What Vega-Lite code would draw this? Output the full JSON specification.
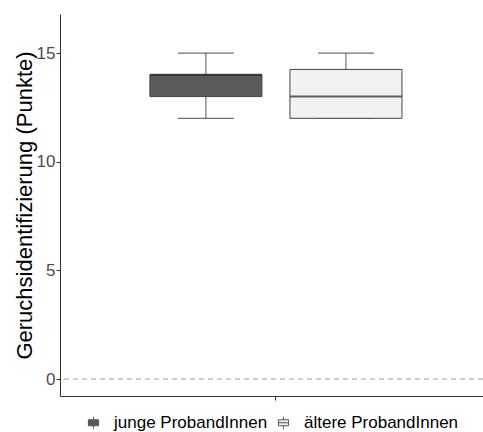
{
  "$schema": "https://vega.github.io/schema/vega-lite/v6.json",
  "autosize": "none",
  "width": 423,
  "height": 382,
  "padding": {"left": 60, "top": 14, "right": 0, "bottom": 36},
  "background": "white",
  "config": {
    "view": {"stroke": null},
    "font": "Liberation Sans",
    "axis": {"grid": false, "domainColor": "#333333", "domainWidth": 1, "tickColor": "#333333", "tickWidth": 1, "tickSize": 4}
  },
  "data": {
    "values": [
      {"cat": "", "group": "junge ProbandInnen", "lower": 12, "q1": 13, "median": 14, "q3": 14, "upper": 15},
      {"cat": "", "group": "ältere ProbandInnen", "lower": 12, "q1": 12, "median": 13, "q3": 14.25, "upper": 15}
    ]
  },
  "encoding": {
    "x": {
      "field": "cat", "type": "nominal",
      "scale": {"paddingInner": 0, "paddingOuter": 0.339, "align": 0.526},
      "axis": {"title": null, "labels": false, "ticks": true}
    },
    "xOffset": {
      "field": "group", "type": "nominal",
      "sort": ["junge ProbandInnen", "ältere ProbandInnen"],
      "scale": {"paddingInner": 0.2, "paddingOuter": 0}
    }
  },
  "layer": [
    {
      "mark": {"type": "rule", "color": "#bdbdbd", "strokeWidth": 1, "strokeDash": [5, 4]},
      "encoding": {"y": {"datum": 0, "type": "quantitative"}, "x": null, "xOffset": null}
    },
    {
      "mark": {"type": "rule", "color": "#555555", "strokeWidth": 1},
      "encoding": {
        "y": {"field": "lower", "type": "quantitative",
          "scale": {"domain": [-0.78, 16.8], "nice": false, "zero": false},
          "axis": {
            "values": [0, 5, 10, 15],
            "title": "Geruchsidentifizierung (Punkte)",
            "titleFontSize": 22, "titleFontWeight": "normal", "titleColor": "#000000", "titlePadding": 0,
            "labelFontSize": 17, "labelColor": "#4d4d4d", "labelPadding": 1
          }
        },
        "y2": {"field": "q1"}
      }
    },
    {
      "mark": {"type": "rule", "color": "#555555", "strokeWidth": 1},
      "encoding": {"y": {"field": "q3", "type": "quantitative"}, "y2": {"field": "upper"}}
    },
    {
      "mark": {"type": "tick", "orient": "horizontal", "size": 56, "thickness": 1.2, "color": "#333333"},
      "encoding": {"y": {"field": "lower", "type": "quantitative"}}
    },
    {
      "mark": {"type": "tick", "orient": "horizontal", "size": 56, "thickness": 1.2, "color": "#333333"},
      "encoding": {"y": {"field": "upper", "type": "quantitative"}}
    },
    {
      "mark": {"type": "bar", "stroke": "#444444", "strokeWidth": 1},
      "encoding": {
        "y": {"field": "q1", "type": "quantitative"},
        "y2": {"field": "q3"},
        "fill": {
          "field": "group", "type": "nominal",
          "sort": ["junge ProbandInnen", "ältere ProbandInnen"],
          "scale": {"domain": ["junge ProbandInnen", "ältere ProbandInnen"], "range": ["#5a5a5a", "#f2f2f2"]},
          "legend": {
            "title": null,
            "orient": "none",
            "direction": "horizontal",
            "legendX": 25,
            "legendY": 400,
            "symbolType": "M-0.85,-0.5H0.85V0.5H-0.85Z M-0.85,0H0.85 M0,-0.5V-1 M0,0.5V1",
            "symbolSize": 144,
            "symbolStrokeColor": "#555555",
            "symbolStrokeWidth": 1,
            "symbolOpacity": 1,
            "labelFontSize": 17,
            "labelColor": "#000000",
            "labelOffset": 12,
            "columnPadding": 7
          }
        }
      }
    },
    {
      "mark": {"type": "tick", "orient": "horizontal", "size": 112, "thickness": 2, "color": "#222222"},
      "encoding": {"y": {"field": "median", "type": "quantitative"}}
    }
  ]
}
